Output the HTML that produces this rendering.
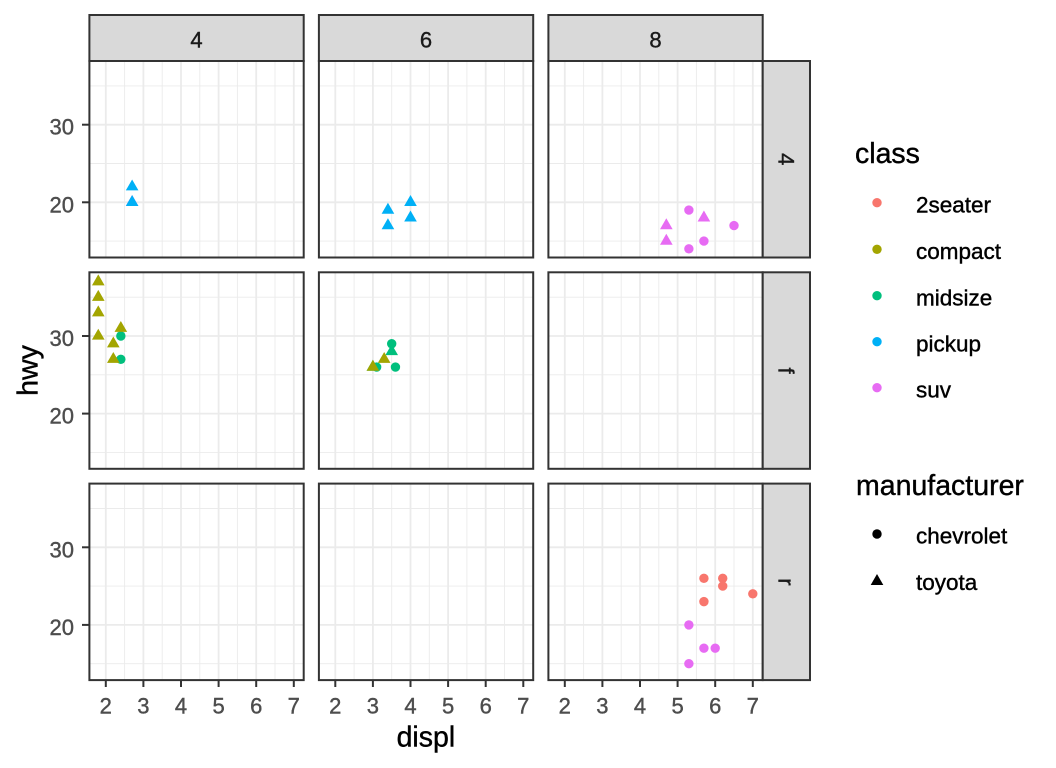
<!DOCTYPE html>
<html><head><meta charset="utf-8"><style>
html,body{margin:0;padding:0;background:#fff;}
svg{display:block;font-family:"Liberation Sans",Arial,sans-serif;}
</style></head><body>
<svg width="1056" height="768" viewBox="0 0 1056 768" xmlns="http://www.w3.org/2000/svg">
<defs>
<g id="grid">
<rect x="0" y="0" width="214.3" height="196.5" fill="#fff"/>
<g stroke="#EBEBEB" stroke-width="0.9">
<line x1="35.2" y1="0" x2="35.2" y2="196.5"/><line x1="72.8" y1="0" x2="72.8" y2="196.5"/><line x1="110.4" y1="0" x2="110.4" y2="196.5"/><line x1="148" y1="0" x2="148" y2="196.5"/><line x1="185.6" y1="0" x2="185.6" y2="196.5"/>
<line x1="0" y1="24.9" x2="214.3" y2="24.9"/><line x1="0" y1="102.5" x2="214.3" y2="102.5"/><line x1="0" y1="180.1" x2="214.3" y2="180.1"/>
</g>
<g stroke="#EBEBEB" stroke-width="1.8">
<line x1="16.4" y1="0" x2="16.4" y2="196.5"/><line x1="54" y1="0" x2="54" y2="196.5"/><line x1="91.6" y1="0" x2="91.6" y2="196.5"/><line x1="129.2" y1="0" x2="129.2" y2="196.5"/><line x1="166.8" y1="0" x2="166.8" y2="196.5"/><line x1="204.4" y1="0" x2="204.4" y2="196.5"/>
<line x1="0" y1="63.7" x2="214.3" y2="63.7"/><line x1="0" y1="141.3" x2="214.3" y2="141.3"/>
</g>
</g>
<path id="tri" d="M0,-7.3L6.32,3.65L-6.32,3.65Z"/>
<rect id="bord" x="0" y="0" width="214.3" height="196.5" fill="none" stroke="#333333" stroke-width="2"/>
</defs>

<!-- Row 0 -->
<g transform="translate(89.4,61)">
<use href="#grid"/>
<use href="#tri" x="42.72" y="141.3" fill="#E76BF3"/>
<use href="#tri" x="42.72" y="141.3" fill="#00B0F6"/>
<use href="#tri" x="42.72" y="125.78" fill="#00B0F6"/>
<use href="#bord"/>
</g>
<g transform="translate(318.9,61)">
<use href="#grid"/>
<use href="#tri" x="69.04" y="164.58" fill="#00B0F6"/>
<use href="#tri" x="69.04" y="149.06" fill="#00B0F6"/>
<use href="#tri" x="91.6" y="156.82" fill="#00B0F6"/>
<use href="#tri" x="91.6" y="141.3" fill="#00B0F6"/>
<use href="#bord"/>
</g>
<g transform="translate(548.4,61)">
<use href="#grid"/>
<g fill="#E76BF3">
<circle cx="140.48" cy="149.06" r="4.7"/><circle cx="140.48" cy="187.86" r="4.7"/><circle cx="155.52" cy="180.1" r="4.7"/><circle cx="185.6" cy="164.58" r="4.7"/>
<use href="#tri" x="117.92" y="164.58"/><use href="#tri" x="117.92" y="180.1"/><use href="#tri" x="155.52" y="156.82"/>
</g>
<use href="#bord"/>
</g>

<!-- Row 1 -->
<g transform="translate(89.4,272.3)">
<use href="#grid"/>
<circle cx="31.44" cy="86.98" r="4.7" fill="#00BF7D"/><circle cx="31.44" cy="63.7" r="4.7" fill="#00BF7D"/>
<g fill="#A3A500">
<use href="#tri" x="23.92" y="71.46"/><use href="#tri" x="23.92" y="86.98"/><use href="#tri" x="31.44" y="55.94"/>
<use href="#tri" x="8.88" y="63.7"/><use href="#tri" x="8.88" y="40.42"/><use href="#tri" x="8.88" y="24.9"/><use href="#tri" x="8.88" y="9.38"/>
</g>
<use href="#bord"/>
</g>
<g transform="translate(318.9,272.3)">
<use href="#grid"/>
<g fill="#00BF7D">
<circle cx="57.76" cy="94.74" r="4.7"/><circle cx="72.8" cy="71.46" r="4.7"/><circle cx="76.56" cy="94.74" r="4.7"/>
<use href="#tri" x="54" y="94.74"/><use href="#tri" x="72.8" y="79.22"/>
</g>
<g fill="#A3A500">
<use href="#tri" x="54" y="94.74"/><use href="#tri" x="65.28" y="86.98"/>
</g>
<use href="#bord"/>
</g>
<g transform="translate(548.4,272.3)">
<use href="#grid"/>
<use href="#bord"/>
</g>

<!-- Row 2 -->
<g transform="translate(89.4,483.6)">
<use href="#grid"/>
<use href="#bord"/>
</g>
<g transform="translate(318.9,483.6)">
<use href="#grid"/>
<use href="#bord"/>
</g>
<g transform="translate(548.4,483.6)">
<use href="#grid"/>
<g fill="#E76BF3">
<circle cx="140.48" cy="141.3" r="4.7"/><circle cx="140.48" cy="180.1" r="4.7"/><circle cx="155.52" cy="164.58" r="4.7"/><circle cx="166.8" cy="164.58" r="4.7"/>
</g>
<g fill="#F8766D">
<circle cx="155.52" cy="94.74" r="4.7"/><circle cx="155.52" cy="118.02" r="4.7"/><circle cx="174.32" cy="94.74" r="4.7"/><circle cx="174.32" cy="102.5" r="4.7"/><circle cx="204.4" cy="110.26" r="4.7"/>
</g>
<use href="#bord"/>
</g>

<!-- Strips -->
<g fill="#D9D9D9" stroke="#333333" stroke-width="2">
<rect x="89.4" y="15" width="214.3" height="46"/>
<rect x="318.9" y="15" width="214.3" height="46"/>
<rect x="548.4" y="15" width="214.3" height="46"/>
<rect x="762.7" y="61" width="47.3" height="196.5"/>
<rect x="762.7" y="272.3" width="47.3" height="196.5"/>
<rect x="762.7" y="483.6" width="47.3" height="196.5"/>
</g>
<g fill="#1A1A1A" stroke="#1A1A1A" stroke-width="0.4" font-size="22" text-anchor="middle">
<text x="196.55" y="47.7">4</text>
<text x="426.05" y="47.7">6</text>
<text x="655.55" y="47.7">8</text>
<text transform="translate(778.5,159.25) rotate(90)">4</text>
<text transform="translate(778.5,370.55) rotate(90)">f</text>
<text transform="translate(778.5,581.85) rotate(90)">r</text>
</g>

<!-- Y ticks -->
<g stroke="#333333" stroke-width="2">
<line x1="82" y1="124.7" x2="89.4" y2="124.7"/><line x1="82" y1="202.3" x2="89.4" y2="202.3"/>
<line x1="82" y1="336" x2="89.4" y2="336"/><line x1="82" y1="413.6" x2="89.4" y2="413.6"/>
<line x1="82" y1="547.3" x2="89.4" y2="547.3"/><line x1="82" y1="624.9" x2="89.4" y2="624.9"/>
</g>
<g fill="#4D4D4D" stroke="#4D4D4D" stroke-width="0.4" font-size="22" text-anchor="end">
<text x="74" y="134.7">30</text><text x="74" y="212.3">20</text>
<text x="74" y="346">30</text><text x="74" y="423.6">20</text>
<text x="74" y="557.3">30</text><text x="74" y="634.9">20</text>
</g>

<!-- X ticks -->
<g stroke="#333333" stroke-width="2">
<line x1="105.8" y1="680.1" x2="105.8" y2="687"/><line x1="143.4" y1="680.1" x2="143.4" y2="687"/><line x1="181" y1="680.1" x2="181" y2="687"/><line x1="218.6" y1="680.1" x2="218.6" y2="687"/><line x1="256.2" y1="680.1" x2="256.2" y2="687"/><line x1="293.8" y1="680.1" x2="293.8" y2="687"/>
<line x1="335.3" y1="680.1" x2="335.3" y2="687"/><line x1="372.9" y1="680.1" x2="372.9" y2="687"/><line x1="410.5" y1="680.1" x2="410.5" y2="687"/><line x1="448.1" y1="680.1" x2="448.1" y2="687"/><line x1="485.7" y1="680.1" x2="485.7" y2="687"/><line x1="523.3" y1="680.1" x2="523.3" y2="687"/>
<line x1="564.8" y1="680.1" x2="564.8" y2="687"/><line x1="602.4" y1="680.1" x2="602.4" y2="687"/><line x1="640" y1="680.1" x2="640" y2="687"/><line x1="677.6" y1="680.1" x2="677.6" y2="687"/><line x1="715.2" y1="680.1" x2="715.2" y2="687"/><line x1="752.8" y1="680.1" x2="752.8" y2="687"/>
</g>
<g fill="#4D4D4D" stroke="#4D4D4D" stroke-width="0.4" font-size="22" text-anchor="middle">
<text x="105.8" y="713.3">2</text><text x="143.4" y="713.3">3</text><text x="181" y="713.3">4</text><text x="218.6" y="713.3">5</text><text x="256.2" y="713.3">6</text><text x="293.8" y="713.3">7</text>
<text x="335.3" y="713.3">2</text><text x="372.9" y="713.3">3</text><text x="410.5" y="713.3">4</text><text x="448.1" y="713.3">5</text><text x="485.7" y="713.3">6</text><text x="523.3" y="713.3">7</text>
<text x="564.8" y="713.3">2</text><text x="602.4" y="713.3">3</text><text x="640" y="713.3">4</text><text x="677.6" y="713.3">5</text><text x="715.2" y="713.3">6</text><text x="752.8" y="713.3">7</text>
</g>

<!-- Axis titles -->
<g fill="#000" stroke="#000" stroke-width="0.4">
<text x="425.9" y="746.7" font-size="28.5" text-anchor="middle">displ</text>
<text transform="translate(37.5,370.5) rotate(-90)" font-size="28.5" text-anchor="middle">hwy</text>
<text x="855" y="163" font-size="28.5">class</text>
<text x="856" y="495" font-size="28.5">manufacturer</text>
</g>

<!-- Legend: class -->
<circle cx="877" cy="202.7" r="4.7" fill="#F8766D"/>
<circle cx="877" cy="249.3" r="4.7" fill="#A3A500"/>
<circle cx="877" cy="295.7" r="4.7" fill="#00BF7D"/>
<circle cx="877" cy="341.7" r="4.7" fill="#00B0F6"/>
<circle cx="877" cy="387.7" r="4.7" fill="#E76BF3"/>
<g font-size="22.5" fill="#000" stroke="#000" stroke-width="0.4">
<text x="916" y="212.7">2seater</text>
<text x="916" y="259">compact</text>
<text x="916" y="305.4">midsize</text>
<text x="916" y="351.4">pickup</text>
<text x="916" y="397.4">suv</text>
<text x="916" y="543.3">chevrolet</text>
<text x="916" y="590">toyota</text>
</g>

<!-- Legend: manufacturer -->
<circle cx="877" cy="534" r="4.7" fill="#000"/>
<use href="#tri" x="877" y="581.3" fill="#000"/>
</svg>
</body></html>
